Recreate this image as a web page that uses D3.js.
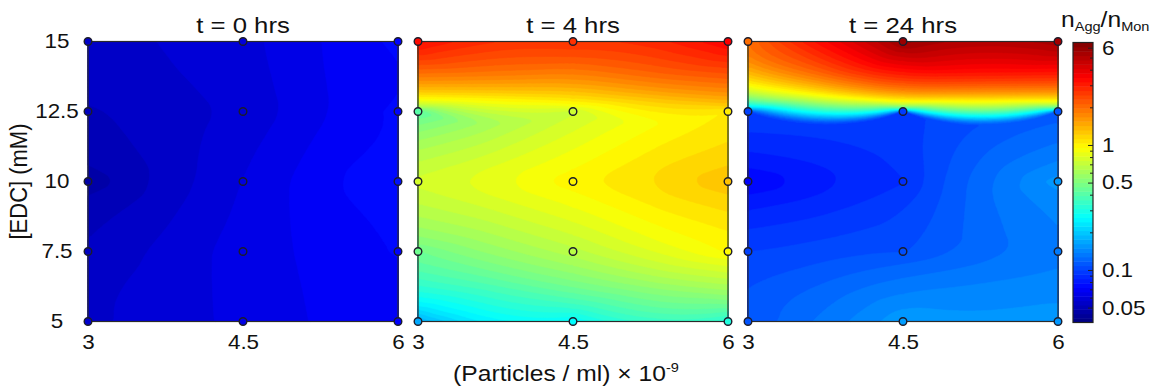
<!DOCTYPE html>
<html>
<head>
<meta charset="utf-8">
<script src="https://cdn.jsdelivr.net/npm/d3@7"></script>
<style>
  body { margin: 0; background: #fff; }
  text { font-family: Arial, "Liberation Sans", sans-serif; fill: #111; }
</style>
</head>
<body>
<svg id="chart" width="1151" height="387"></svg>
<script>
// Grid coordinates
const particles = [3, 4.5, 6];          // (Particles / ml) x 10^-9
const edc = [5, 7.5, 10, 12.5, 15];     // [EDC] (mM)
const panelTitles = ["t = 0 hrs", "t = 4 hrs", "t = 24 hrs"];

// n_Agg / n_Mon, one row per EDC level (5 -> 15), columns follow `particles`
const ratio0h = [
  [0.056, 0.063, 0.072],
  [0.053, 0.064, 0.073],
  [0.046, 0.062, 0.079],
  [0.052, 0.058, 0.074],
  [0.055, 0.060, 0.074]
];
const ratio4h = [
  [0.17, 0.26, 0.31],
  [0.46, 0.67, 0.97],
  [0.77, 1.00, 1.30],
  [0.41, 0.74, 1.05],
  [3.3, 2.7, 3.5]
];
const ratio24h = [
  [0.110, 0.160, 0.155],
  [0.100, 0.108, 0.135],
  [0.072, 0.092, 0.156],
  [0.100, 0.098, 0.112],
  [2.0, 5.8, 5.5]
];

const colorTicks = [0.05, 0.1, 0.5, 1, 6];
const colorMinorTicks = [0.06, 0.07, 0.08, 0.09, 0.2, 0.3, 0.4, 0.6, 0.7, 0.8, 0.9, 2, 3, 4, 5];
const colorDomain = [0.038, 6.6];

// ---- layout ----
const plotTop = 41.5, plotBottom = 321.5;
const panelW = 310, panelLeft0 = 88, panelGap = 20;
const cbLeft = 1073, cbRight = 1093, cbTop = 42.5, cbBottom = 322.5;
const textStretch = 1.12;
const yLabelCentre = 31;   // distance from the panel edge to the centre of the y tick labels
const NX = 150, NY = 200, nLevels = 64;

const svg = d3.select("#chart");

const y = d3.scaleLinear().domain([edc[0], edc[edc.length - 1]]).range([plotBottom, plotTop]);
const tScale = d3.scaleLog().domain(colorDomain).range([0, 1]).clamp(true);
const logMin = Math.log10(colorDomain[0]), logMax = Math.log10(colorDomain[1]);
const levels = d3.range(nLevels).map(k => logMin + k * (logMax - logMin) / nLevels);

function jet(t) {
  const c = v => Math.max(0, Math.min(1, v));
  const r = c(1.5 - Math.abs(4 * t - 3));
  const g = c(1.5 - Math.abs(4 * t - 2));
  const b = c(1.5 - Math.abs(4 * t - 1));
  return d3.rgb(r * 255, g * 255, b * 255).formatHex();
}
const levelColor = k => jet((k + 0.5) / nLevels);
const valueColor = v => jet(tScale(v));

// Discrete Sibson (natural-neighbour) interpolation, worked out in grid-index space
// so that every measured cell is a unit square.
function naturalNeighbor(values, nx, ny) {
  const sx = [], sy = [], sv = [];
  edc.forEach((yy, j) => particles.forEach((xx, i) => { sx.push(i); sy.push(j); sv.push(values[j][i]); }));
  const w = particles.length - 1, h = edc.length - 1;
  const dx = w / nx, dy = h / ny;
  const acc = new Float64Array(nx * ny), cnt = new Float64Array(nx * ny);
  const cx = Float64Array.from({length: nx}, (_, i) => (i + 0.5) * dx);
  const cy = Float64Array.from({length: ny}, (_, j) => (j + 0.5) * dy);
  for (let j = 0; j < ny; j++) {
    for (let i = 0; i < nx; i++) {
      const px = cx[i], py = cy[j];
      let best = Infinity, bv = 0;
      for (let s = 0; s < sv.length; s++) {
        const ex = sx[s] - px, ey = sy[s] - py, d = ex * ex + ey * ey;
        if (d < best) { best = d; bv = sv[s]; }
      }
      const r = Math.sqrt(best);
      const i0 = Math.max(0, Math.floor((px - r) / dx - 0.5));
      const i1 = Math.min(nx - 1, Math.ceil((px + r) / dx - 0.5));
      const j0 = Math.max(0, Math.floor((py - r) / dy - 0.5));
      const j1 = Math.min(ny - 1, Math.ceil((py + r) / dy - 0.5));
      for (let jj = j0; jj <= j1; jj++) {
        const ey = cy[jj] - py, ey2 = ey * ey;
        if (ey2 > best) continue;
        const row = jj * nx;
        for (let ii = i0; ii <= i1; ii++) {
          const ex = cx[ii] - px;
          if (ex * ex + ey2 <= best) { acc[row + ii] += bv; cnt[row + ii] += 1; }
        }
      }
    }
  }
  const out = new Array(nx * ny);
  for (let k = 0; k < out.length; k++) out[k] = acc[k] / cnt[k];
  return out;
}

function stretchText(sel) {
  sel.attr("transform", function () {
    const prev = this.getAttribute("transform") || "";
    return prev + ` scale(${textStretch},1)`;
  });
}

// ---- panels ----
[ratio0h, ratio4h, ratio24h].forEach((grid, p) => {
  const left = panelLeft0 + p * (panelW + panelGap);
  const x = d3.scaleLinear().domain([particles[0], particles[particles.length - 1]]).range([left, left + panelW]);
  const g = svg.append("g");

  const field = naturalNeighbor(grid, NX, NY).map(v => Math.log10(v));
  const bands = d3.contours().size([NX, NY]).thresholds(levels)(field);
  const proj = d3.geoTransform({
    point(px, py) {
      this.stream.point(x(particles[0] + px * (particles[2] - particles[0]) / NX),
                        y(edc[0] + py * (edc[4] - edc[0]) / NY));
    }
  });
  const path = d3.geoPath(proj);

  g.append("rect")
    .attr("x", x.range()[0]).attr("y", plotTop)
    .attr("width", panelW).attr("height", plotBottom - plotTop)
    .attr("fill", levelColor(0));

  g.selectAll("path.band").data(bands).join("path")
    .attr("class", "band")
    .attr("d", path)
    .attr("fill", (d, i) => levelColor(i))
    .attr("stroke", (d, i) => levelColor(i))
    .attr("stroke-width", 0.6);

  g.append("rect")
    .attr("x", x.range()[0]).attr("y", plotTop)
    .attr("width", panelW).attr("height", plotBottom - plotTop)
    .attr("fill", "none").attr("stroke", "#2a2a2a").attr("stroke-width", 1.2);

  const pts = [];
  edc.forEach((yy, j) => particles.forEach((xx, i) => pts.push({x: xx, y: yy, v: grid[j][i]})));
  g.selectAll("circle").data(pts).join("circle")
    .attr("cx", d => x(d.x)).attr("cy", d => y(d.y)).attr("r", 3.8)
    .attr("fill", d => valueColor(d.v))
    .attr("stroke", "#1c1c2a").attr("stroke-width", 1.4);

  // x axis
  const ax = g.append("g").attr("transform", `translate(0,${plotBottom})`)
    .call(d3.axisBottom(x).tickValues(particles).tickFormat(d3.format("")).tickSize(0).tickPadding(13));
  ax.select(".domain").remove();
  ax.selectAll("text").attr("font-size", 20).attr("fill", "#111").style("font-family", "Arial, 'Liberation Sans', sans-serif").call(stretchText);

  // title
  g.append("text")
    .attr("text-anchor", "middle").attr("font-size", 23)
    .attr("transform", `translate(${left + panelW / 2},33) scale(${textStretch},1)`)
    .text(panelTitles[p]);

  if (p === 0) {
    const ay = g.append("g").attr("transform", `translate(${left},0)`)
      .call(d3.axisLeft(y).tickValues(edc).tickFormat(d3.format("")).tickSize(0));
    ay.select(".domain").remove();
    ay.selectAll("text")
      .attr("text-anchor", "middle")
      .attr("x", -yLabelCentre / textStretch)
      .attr("font-size", 20).attr("fill", "#111")
      .style("font-family", "Arial, 'Liberation Sans', sans-serif")
      .call(stretchText);
  }
});

// y label
svg.append("text")
  .attr("text-anchor", "middle").attr("font-size", 22)
  .attr("transform", `translate(27,${(plotTop + plotBottom) / 2}) rotate(-90) scale(1,${textStretch})`)
  .text("[EDC] (mM)");

// x label
const xl = svg.append("text")
  .attr("text-anchor", "middle").attr("font-size", 22)
  .attr("transform", `translate(566,381) scale(${textStretch},1)`);
xl.append("tspan").text("(Particles / ml) \u00d7 10");
xl.append("tspan").attr("font-size", 13).attr("dy", -9).text("-9");

// ---- colour bar ----
const cb = d3.scaleLog().domain(colorDomain).range([cbBottom, cbTop]);
const cbg = svg.append("g");
cbg.selectAll("rect.lvl").data(levels).join("rect")
  .attr("class", "lvl")
  .attr("x", cbLeft).attr("width", cbRight - cbLeft)
  .attr("y", (d, k) => cb(Math.pow(10, logMin + (k + 1) * (logMax - logMin) / nLevels)))
  .attr("height", (d, k) => cb(Math.pow(10, d)) - cb(Math.pow(10, logMin + (k + 1) * (logMax - logMin) / nLevels)) + 0.5)
  .attr("fill", (d, k) => levelColor(k));
cbg.append("rect")
  .attr("x", cbLeft).attr("y", cbTop).attr("width", cbRight - cbLeft).attr("height", cbBottom - cbTop)
  .attr("fill", "none").attr("stroke", "#222").attr("stroke-width", 1.2);

const cbMinor = cbg.append("g").attr("transform", `translate(${cbRight},0)`)
  .call(d3.axisRight(cb).tickValues(colorMinorTicks).tickFormat("").tickSizeInner(-3).tickSizeOuter(0));
cbMinor.select(".domain").remove();
cbMinor.selectAll("line").attr("stroke", "#222");

const cbAxis = cbg.append("g").attr("transform", `translate(${cbRight},0)`)
  .call(d3.axisRight(cb).tickValues(colorTicks).tickFormat(d3.format("")).tickSizeInner(-5).tickSizeOuter(0).tickPadding(8));
cbAxis.select(".domain").remove();
cbAxis.selectAll("line").attr("stroke", "#222");
cbAxis.selectAll("text").attr("font-size", 20).attr("fill", "#111").style("font-family", "Arial, 'Liberation Sans', sans-serif").call(stretchText);

// colour bar title: n_Agg / n_Mon
const ct = svg.append("text").attr("font-size", 22)
  .attr("transform", `translate(1061,27) scale(${textStretch},1)`);
ct.append("tspan").text("n");
ct.append("tspan").attr("font-size", 13).attr("dy", 4).text("Agg");
ct.append("tspan").attr("dy", -4).text("/n");
ct.append("tspan").attr("font-size", 13).attr("dy", 4).text("Mon");
</script>
</body>
</html>
